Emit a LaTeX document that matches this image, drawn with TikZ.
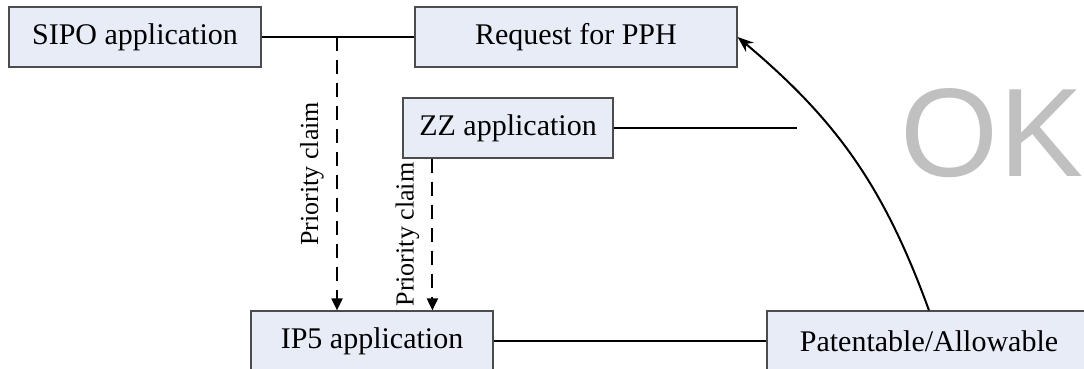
\documentclass[tikz,border=0pt]{standalone}
\usepackage{fontspec}
\setmainfont{Liberation Serif}
\newfontfamily\okfont{Liberation Sans}
\usepackage{xcolor}
\usepackage{tikz}
\usetikzlibrary{shapes, arrows.meta, positioning}
\definecolor{boxfill}{RGB}{231,236,247}
\definecolor{okgray}{RGB}{192,192,192}

\begin{document}
\begin{tikzpicture}[
                x=0.5pt, y=0.5pt,
                appbox/.style={draw=black!70, line width=0.6pt, fill=boxfill, minimum height=30pt, inner sep=0pt, align=center, font=\fontsize{15}{18}\selectfont},
                link/.style={line width=1pt},
                claim/.style={line width=1pt, dash pattern=on 7pt off 4.5pt, -{Triangle[length=6pt, width=5.5pt]}},
                claimlabel/.style={rotate=90, font=\fontsize{13}{15}\selectfont}
            ]
                \useasboundingbox (0,0) rectangle (1084,369);

                \node[appbox, minimum width=126pt] (sipo) at (135,332) {SIPO application};
                \node[appbox, minimum width=161pt] (pph) at (576,332) {Request for PPH};
                \node[appbox, minimum width=105pt] (zz) at (508,241) {ZZ application};
                \node[appbox, minimum width=121pt] (ip5) at (372,28) {IP5 application};
                \node[appbox, minimum width=162pt] (allow) at (929,28) {Patentable/Allowable};
                \node[text=okgray, font=\okfont\fontsize{63}{63}\selectfont] (ok) at (992,236) {OK};

                \coordinate (split) at (337,332);
                \coordinate (zzend) at (797,241);

                \draw[link] (sipo) -- (pph);
                \draw[link] (zz) -- (zzend);
                \draw[link] (ip5) -- (allow);
                \draw[claim] (split) -- node[midway, xshift=-12.5pt, claimlabel] (claima) {Priority claim} (split |- ip5.north);
                \draw[claim] ([xshift=15pt]zz.south west) -- node[midway, xshift=-12.5pt, claimlabel] (claimb) {Priority claim} ([xshift=15pt]zz.south west |- ip5.north);
                \draw[line width=1pt, -{Stealth[length=8pt, width=6pt]}] (allow.north) to[out=110, in=-40] (pph.east);
            \end{tikzpicture}
\end{document}
